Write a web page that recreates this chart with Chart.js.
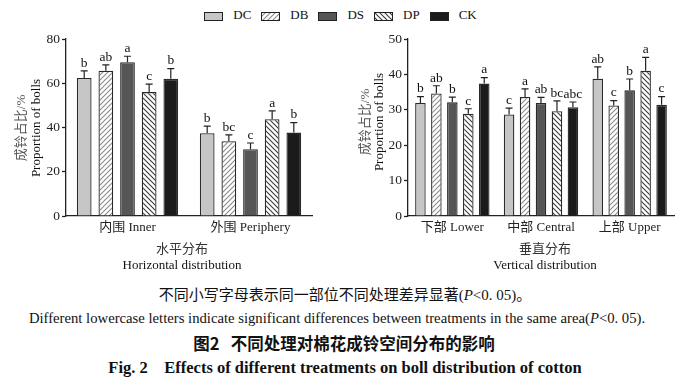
<!DOCTYPE html>
<html>
<head>
<meta charset="utf-8">
<script src="https://cdn.jsdelivr.net/npm/chart.js@4.4.1/dist/chart.umd.min.js"></script>
<style>
  body { margin: 0; background: #fff; }
  #page { position: relative; width: 697px; height: 387px; overflow: hidden; font-family: "Liberation Serif", "Noto Sans CJK SC", serif; color: #111; }
  .abs { position: absolute; white-space: nowrap; }
  .cx { transform: translate(-50%, -50%); }
  .rot { transform: translate(-50%, -50%) rotate(-90deg); }
  #legend { position: absolute; left: -8px; top: 6px; width: 697px; text-align: center; font-size: 13px; }
  #legend span.item { display: inline-block; margin: 0 5px; vertical-align: middle; }
  #legend canvas { vertical-align: middle; margin-right: 10px; }
</style>
</head>
<body>
<div id="page">
  <div id="legend"></div>
  <canvas id="horizChart" class="abs" style="left:0;top:0"></canvas>
  <canvas id="vertChart" class="abs" style="left:340px;top:0"></canvas>

  <div class="abs rot" style="left:19px;top:128px;font-size:13px;color:#555">成铃占比/%</div>
  <div class="abs rot" style="left:36px;top:128px;font-size:13px">Proportion of bolls</div>
  <div class="abs rot" style="left:363px;top:122px;font-size:13px;color:#555">成铃占比/%</div>
  <div class="abs rot" style="left:379px;top:122px;font-size:13px">Proportion of bolls</div>

  <div class="abs cx" style="left:182px;top:247px;font-size:13px;color:#333">水平分布</div>
  <div class="abs cx" style="left:182px;top:265px;font-size:13px">Horizontal distribution</div>
  <div class="abs cx" style="left:545px;top:247px;font-size:13px;color:#333">垂直分布</div>
  <div class="abs cx" style="left:545px;top:265px;font-size:13px">Vertical distribution</div>

  <div class="abs cx" style="left:345px;top:293px;font-size:15px">不同小写字母表示同一部位不同处理差异显著(<i>P</i>&lt;0. 05)。</div>
  <div class="abs cx" style="left:337px;top:318px;font-size:14.7px">Different lowercase letters indicate significant differences between treatments in the same area(<i>P</i>&lt;0. 05).</div>
  <div class="abs cx" style="left:344px;top:343px;font-size:16.5px;font-weight:bold;font-family:'Noto Sans CJK SC','Liberation Serif'">图2&nbsp;&nbsp;&nbsp;不同处理对棉花成铃空间分布的影响</div>
  <div class="abs cx" style="left:345px;top:368px;font-size:16.5px;font-weight:bold">Fig. 2&nbsp;&nbsp;&nbsp;&nbsp;Effects of different treatments on boll distribution of cotton</div>
</div>

<script>
const treatments = ['DC', 'DB', 'DS', 'DP', 'CK'];

// horizontal distribution
const horizLabels = ['内围 Inner', '外围 Periphery'];
const horizDC = [62.4, 37.4];
const horizDB = [65.7, 33.8];
const horizDS = [69.5, 30.2];
const horizDP = [56.0, 43.7];
const horizCK = [62.0, 37.7];
const horizErrDC = [3.2, 3.2];
const horizErrDB = [2.6, 2.9];
const horizErrDS = [2.7, 2.8];
const horizErrDP = [3.6, 3.8];
const horizErrCK = [4.6, 4.5];
const horizLetters = [['b', 'b'], ['ab', 'bc'], ['a', 'c'], ['c', 'a'], ['b', 'b']];

// vertical distribution
const vertLabels = ['下部 Lower', '中部 Central', '上部 Upper'];
const vertDC = [31.9, 28.7, 38.8];
const vertDB = [34.6, 33.6, 31.2];
const vertDS = [32.1, 31.9, 35.5];
const vertDP = [28.9, 29.6, 41.0];
const vertCK = [37.4, 30.7, 31.4];
const vertErrDC = [1.8, 1.8, 3.3];
const vertErrDB = [2.2, 2.3, 1.4];
const vertErrDS = [1.5, 1.6, 3.2];
const vertErrDP = [1.4, 2.9, 3.8];
const vertErrCK = [1.7, 1.5, 2.3];
const vertLetters = [['b', 'c', 'ab'], ['ab', 'a', 'c'], ['b', 'ab', 'b'], ['c', 'bc', 'a'], ['a', 'abc', 'c']];

const serif = '"Liberation Serif", "Noto Sans CJK SC", serif';

function hatch(dir, lineColor) {
  const c = document.createElement('canvas');
  c.width = 5; c.height = 5;
  const g = c.getContext('2d');
  g.fillStyle = '#fff';
  g.fillRect(0, 0, 5, 5);
  g.strokeStyle = lineColor;
  g.lineWidth = 1.1;
  g.beginPath();
  if (dir === '/') {
    g.moveTo(-1, 6); g.lineTo(6, -1);
    g.moveTo(-1, 1); g.lineTo(1, -1);
    g.moveTo(4, 6); g.lineTo(6, 4);
  } else {
    g.moveTo(-1, -1); g.lineTo(6, 6);
    g.moveTo(4, -1); g.lineTo(6, 1);
    g.moveTo(-1, 4); g.lineTo(1, 6);
  }
  g.stroke();
  return g.createPattern(c, 'repeat');
}

function fills() {
  return ['#c6c6c6', hatch('/', '#8a8a8a'), '#565656', hatch('\\', '#3a3a3a'), '#1b1b1b'];
}

// legend
(function buildLegend() {
  const leg = document.getElementById('legend');
  const f = fills();
  treatments.forEach((t, i) => {
    const item = document.createElement('span');
    item.className = 'item';
    const sw = document.createElement('canvas');
    sw.width = 19; sw.height = 9;
    const g = sw.getContext('2d');
    g.fillStyle = f[i];
    g.fillRect(0, 0, 19, 9);
    g.strokeStyle = '#222';
    g.lineWidth = 1;
    g.strokeRect(0.5, 0.5, 18, 8);
    item.appendChild(sw);
    item.appendChild(document.createTextNode(t));
    leg.appendChild(item);
  });
})();

const errorBarPlugin = {
  id: 'errorBars',
  afterDatasetsDraw(chart) {
    const ctx = chart.ctx;
    const yScale = chart.scales.y;
    ctx.save();
    chart.data.datasets.forEach((ds, di) => {
      const meta = chart.getDatasetMeta(di);
      meta.data.forEach((bar, i) => {
        const top = yScale.getPixelForValue(ds.data[i] + ds.errors[i]);
        ctx.strokeStyle = '#222';
        ctx.lineWidth = 1.2;
        ctx.beginPath();
        ctx.moveTo(bar.x, bar.y);
        ctx.lineTo(bar.x, top);
        ctx.moveTo(bar.x - 3.5, top);
        ctx.lineTo(bar.x + 3.5, top);
        ctx.stroke();
        ctx.fillStyle = '#111';
        ctx.font = '13.5px ' + serif;
        ctx.textAlign = 'center';
        ctx.textBaseline = 'bottom';
        ctx.fillText(ds.letters[i], bar.x, top - 1);
      });
    });
    ctx.restore();
  }
};

function createDistChart(id, w, h, labels, series, errors, letters, max, step, yWidth, padRight, catPct, barPct) {
  const canvas = document.getElementById(id);
  canvas.width = w; canvas.height = h;
  canvas.style.width = w + 'px'; canvas.style.height = h + 'px';
  const f = fills();
  new Chart(canvas, {
    type: 'bar',
    data: {
      labels: labels,
      datasets: treatments.map((t, i) => ({
        label: t,
        data: series[i],
        errors: errors[i],
        letters: letters[i],
        backgroundColor: f[i],
        borderColor: '#2a2a2a',
        borderWidth: 1.3,
        categoryPercentage: catPct,
        barPercentage: barPct
      }))
    },
    options: {
      responsive: false,
      animation: false,
      devicePixelRatio: 1,
      layout: { padding: { top: 39, right: padRight, left: 0, bottom: 0 } },
      scales: {
        x: {
          grid: { display: false, drawTicks: false },
          border: { display: true, color: '#222', width: 1.3 },
          ticks: { color: '#222', font: { size: 13, family: serif }, padding: 4 },
          afterFit: s => { s.height = h - 216; }
        },
        y: {
          min: 0, max: max,
          grid: { drawOnChartArea: false, color: '#222', tickLength: 4, tickWidth: 1.3 },
          border: { display: true, color: '#222', width: 1.3 },
          ticks: { stepSize: step, color: '#222', font: { size: 13.5, family: serif }, padding: 2 },
          afterFit: s => { s.width = yWidth; }
        }
      },
      plugins: {
        legend: { display: false },
        tooltip: { enabled: false }
      }
    },
    plugins: [errorBarPlugin]
  });
}

createDistChart('horizChart', 340, 240, horizLabels,
  [horizDC, horizDB, horizDS, horizDP, horizCK],
  [horizErrDC, horizErrDB, horizErrDS, horizErrDP, horizErrCK],
  horizLetters, 80, 20, 66, 28, 0.88, 0.68);

createDistChart('vertChart', 357, 240, vertLabels,
  [vertDC, vertDB, vertDS, vertDP, vertCK],
  [vertErrDC, vertErrDB, vertErrDS, vertErrDP, vertErrCK],
  vertLetters, 50, 10, 68, 23, 0.9, 0.66);
</script>
</body>
</html>
